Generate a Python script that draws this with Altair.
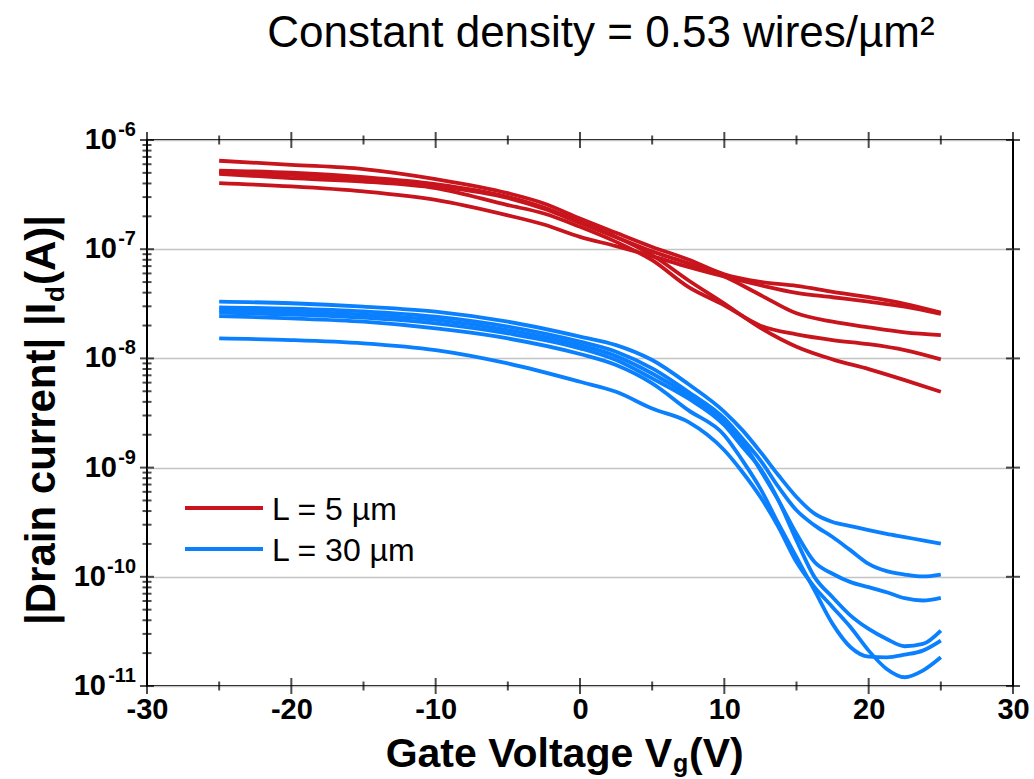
import altair as alt
import pandas as pd

RED = "#C8141C"
BLUE = "#0A80FF"
FONT = "Liberation Sans"

# ---------------- data (log10 of |Id| in A) ----------------
v_red = [-25, -20, -15, -10, -5, -2.5, 0, 2.5, 5, 7.5, 10, 12.5, 15, 17.5, 20, 22.5, 25]
red_a = [-6.19, -6.227, -6.266, -6.358, -6.487, -6.581, -6.719, -6.85, -6.979, -7.095, -7.23, -7.30, -7.336, -7.39, -7.44, -7.50, -7.581]
red_b = [-6.28, -6.30, -6.34, -6.404, -6.52, -6.618, -6.75, -6.887, -7.055, -7.284, -7.498, -7.72, -7.893, -8.009, -8.098, -8.199, -8.306]
red_c = [-6.31, -6.35, -6.38, -6.44, -6.596, -6.673, -6.795, -6.933, -7.101, -7.346, -7.514, -7.70, -7.78, -7.832, -7.87, -7.924, -8.009]
red_d = [-6.395, -6.425, -6.471, -6.548, -6.69, -6.774, -6.887, -6.972, -7.064, -7.162, -7.25, -7.33, -7.40, -7.44, -7.48, -7.526, -7.593]
red_e = [-6.295, -6.32, -6.36, -6.42, -6.53, -6.63, -6.76, -6.89, -7.02, -7.13, -7.25, -7.419, -7.587, -7.664, -7.716, -7.761, -7.786]

v_blue = [-25, -20, -15, -10, -5, 0, 2.5, 5, 7.5, 10, 11.25, 12.5, 13.75, 15, 16.25, 17.5, 18.75, 20, 21.25, 22.5, 23.75, 25]
blue_1 = [-7.48, -7.495, -7.526, -7.572, -7.664, -7.80, -7.878, -8.015, -8.235, -8.489, -8.657, -8.856, -9.070, -9.269, -9.422, -9.498, -9.535, -9.572, -9.606, -9.636, -9.667, -9.697]
blue_2 = [-7.532, -7.544, -7.569, -7.618, -7.709, -7.847, -7.939, -8.092, -8.306, -8.55, -8.734, -8.933, -9.177, -9.391, -9.529, -9.636, -9.758, -9.881, -9.948, -9.979, -9.997, -9.979]
blue_3 = [-7.557, -7.572, -7.599, -7.648, -7.74, -7.878, -7.979, -8.138, -8.336, -8.581, -8.765, -9.024, -9.30, -9.606, -9.865, -9.972, -10.049, -10.095, -10.141, -10.196, -10.217, -10.193]
blue_4 = [-7.581, -7.599, -7.627, -7.679, -7.771, -7.908, -8.015, -8.183, -8.367, -8.612, -8.81, -9.009, -9.30, -9.667, -10.003, -10.187, -10.355, -10.477, -10.569, -10.636, -10.615, -10.492]
blue_5 = [-7.612, -7.633, -7.664, -7.725, -7.817, -7.96, -8.061, -8.229, -8.474, -8.703, -8.933, -9.193, -9.514, -9.820, -10.125, -10.431, -10.645, -10.731, -10.737, -10.713, -10.676, -10.584]
blue_6 = [-7.817, -7.832, -7.862, -7.924, -8.046, -8.214, -8.306, -8.459, -8.581, -8.841, -9.04, -9.269, -9.544, -9.865, -10.095, -10.278, -10.462, -10.676, -10.844, -10.920, -10.859, -10.737]

groups = ["L = 5 µm", "L = 30 µm"]
title_text = "Constant density = 0.53 wires/µm²"
x_tick_labels = [-30, -20, -10, 0, 10, 20, 30]
x_minor = [-25, -15, -5, 5, 15, 25]
y_exponents = [-6, -7, -8, -9, -10, -11]

rows = []
for name, vals in [("r1", red_a), ("r2", red_b), ("r3", red_c), ("r4", red_d), ("r5", red_e)]:
    for v, lg in zip(v_red, vals):
        rows.append({"V": v, "I": 10 ** lg, "curve": name, "group": groups[0]})
for name, vals in [("b1", blue_1), ("b2", blue_2), ("b3", blue_3), ("b4", blue_4), ("b5", blue_5), ("b6", blue_6)]:
    for v, lg in zip(v_blue, vals):
        rows.append({"V": v, "I": 10 ** lg, "curve": name, "group": groups[1]})
df = pd.DataFrame(rows)

xs = alt.Scale(domain=[-30, 30], nice=False, zero=False)
ys = alt.Scale(type="log", domain=[1e-11, 1e-6], nice=False)
decades = [10.0 ** e for e in y_exponents]

lines = alt.Chart(df).mark_line(strokeWidth=3.8, interpolate="monotone").encode(
    x=alt.X("V:Q", scale=xs, axis=alt.Axis(
        values=x_tick_labels, labelExpr="'' + datum.value", ticks=False, domain=False, grid=False,
        labelFontSize=29, labelFontWeight="bold", labelFont=FONT, labelColor="black",
        labelPadding=9, labelFlush=False, labelOverlap=False, title=None)),
    y=alt.Y("I:Q", scale=ys, axis=alt.Axis(
        values=decades, labels=False, ticks=False, domain=False, grid=True,
        gridColor="#C4C4C4", gridWidth=1.5, title=None)),
    color=alt.Color("group:N", scale=alt.Scale(domain=groups, range=[RED, BLUE]), legend=None),
    detail="curve:N",
)

# ---------------- tick marks (crossing the frame) ----------------
xt = []
for v in x_tick_labels:
    xt += [{"x": v, "y": 1e-11, "major": 1}, {"x": v, "y": 1e-6, "major": 1}]
for v in x_minor:
    xt += [{"x": v, "y": 1e-11, "major": 0}, {"x": v, "y": 1e-6, "major": 0}]
xt = pd.DataFrame(xt)
yt = []
for e in range(-11, -5):
    yt += [{"x": -30, "y": 10.0 ** e, "major": 1}, {"x": 30, "y": 10.0 ** e, "major": 1}]
    if e < -6:
        for m in range(2, 10):
            yt.append({"x": -30, "y": m * 10.0 ** e, "major": 0})
yt = pd.DataFrame(yt)

def ticks(data, orient, major, size):
    return alt.Chart(data).transform_filter(alt.datum.major == major).mark_tick(
        orient=orient, size=size, thickness=2, color="black").encode(
        x=alt.X("x:Q", scale=xs), y=alt.Y("y:Q", scale=ys))

tick_layers = [ticks(xt, "vertical", 1, 16), ticks(xt, "vertical", 0, 9),
               ticks(yt, "horizontal", 1, 14), ticks(yt, "horizontal", 0, 9)]

# ---------------- y tick labels 10^n ----------------
ylab = pd.DataFrame({"v": decades, "exp": [str(e) for e in y_exponents],
                     "two": [1 if e <= -10 else 0 for e in y_exponents], "base": ["10"] * len(decades)})
base1 = alt.Chart(ylab).transform_filter(alt.datum.two == 0).mark_text(
    align="right", baseline="middle", dx=-30, fontSize=29, fontWeight="bold", font=FONT, color="black"
).encode(x=alt.value(0), y=alt.Y("v:Q", scale=ys), text="base:N")
base2 = alt.Chart(ylab).transform_filter(alt.datum.two == 1).mark_text(
    align="right", baseline="middle", dx=-41, fontSize=29, fontWeight="bold", font=FONT, color="black"
).encode(x=alt.value(0), y=alt.Y("v:Q", scale=ys), text="base:N")
expo = alt.Chart(ylab).mark_text(
    align="right", baseline="middle", dx=-11, dy=-10, fontSize=20, fontWeight="bold", font=FONT, color="black"
).encode(x=alt.value(0), y=alt.Y("v:Q", scale=ys), text="exp:N")

# ---------------- annotations ----------------
def label(text, x, y, size, weight="normal", align="left", angle=0, color="black"):
    kw = dict(align=align, baseline="alphabetic", fontSize=size, fontWeight=weight, font=FONT, color=color)
    if angle:
        kw["angle"] = angle
    return alt.Chart(pd.DataFrame({"t": [text]})).mark_text(**kw).encode(
        text="t:N", x=alt.value(x), y=alt.value(y))

title = label(title_text, 454, -93, 44, align="center")

xtitle = [label("Gate Voltage V", 525, 627, 41, "bold", align="right"),
          label("g", 526, 632, 25, "bold"),
          label("(V)", 542, 627, 41, "bold")]
ytitle = [label("|Drain current| |I", -92, 485, 42, "bold", angle=270),
          label("d", -83, 162, 26, "bold", angle=270),
          label("(A)|", -92, 145, 42, "bold", angle=270)]

def leg_line(y, color):
    return alt.Chart(pd.DataFrame({"a": [0]})).mark_rule(strokeWidth=4, color=color).encode(
        x=alt.value(38), x2=alt.value(116), y=alt.value(y))

legend = [leg_line(368, RED), leg_line(409, BLUE),
          label(groups[0], 125, 379.5, 32), label(groups[1], 125, 420.5, 32)]

chart = alt.layer(lines, *tick_layers, base1, base2, expo, title, *xtitle, *ytitle, *legend).properties(
    width=866, height=546,
    padding={"left": 147, "top": 140, "right": 21, "bottom": 93},
    autosize=alt.AutoSizeParams(type="none"),
).configure_view(stroke="black", strokeWidth=2)

chart.save("out.html", embed_options={"renderer": "svg", "actions": False})
